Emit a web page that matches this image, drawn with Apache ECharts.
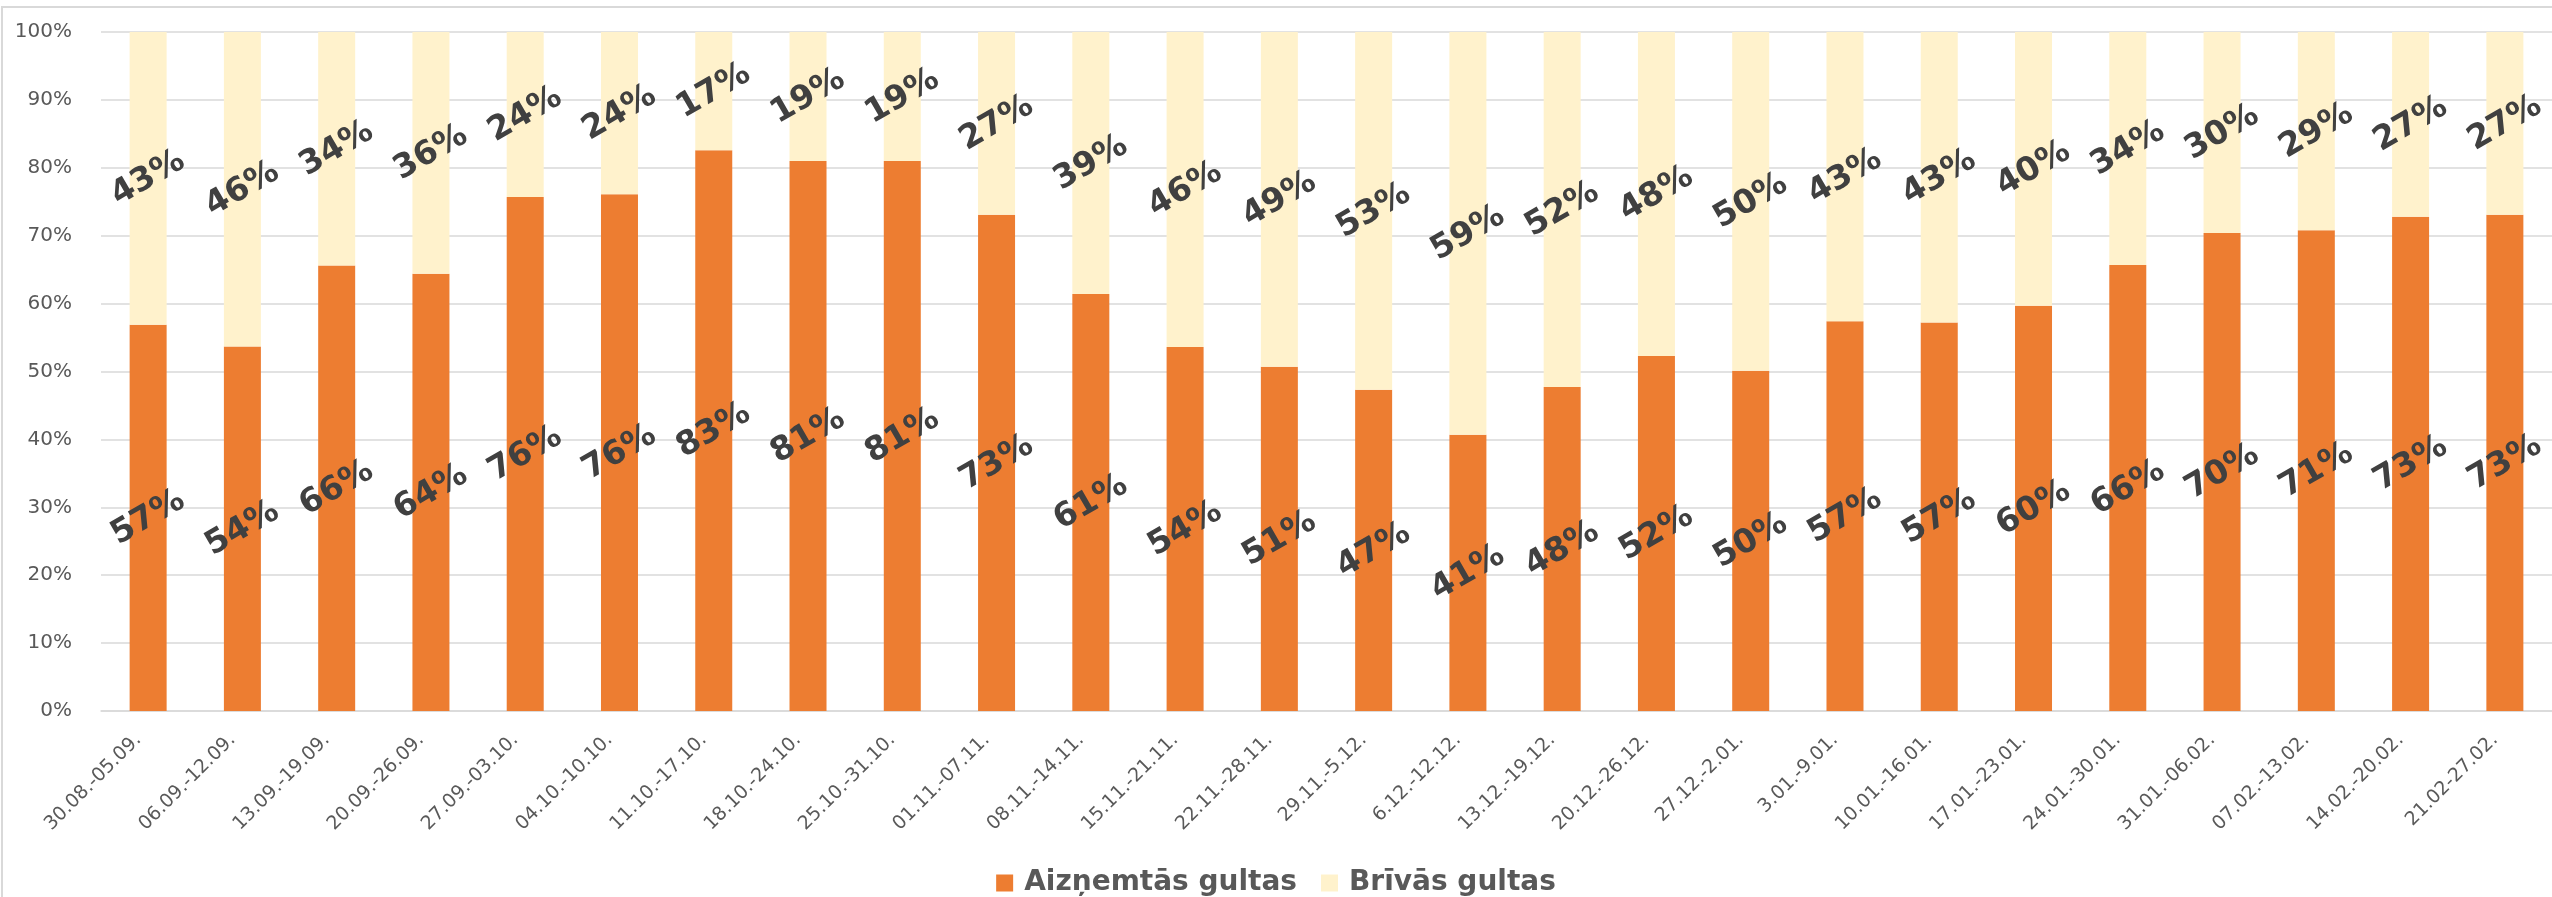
<!DOCTYPE html>
<html>
<head>
<meta charset="utf-8">
<script src="https://cdn.jsdelivr.net/npm/echarts@6/dist/echarts.min.js"></script>
<style>
  html, body { margin: 0; padding: 0; background: #fff; overflow: hidden; }
  #frame { position: absolute; left: 1px; top: 6px; width: 2600px; height: 950px;
           border-top: 2px solid #d9d9d9; border-left: 2px solid #d9d9d9; }
  #chart { position: absolute; left: 0; top: 0; width: 2552px; height: 897px; }
</style>
</head>
<body>
<div id="frame"></div>
<div id="chart"></div>
<script>
// weeks on the x axis
let weeks = ['30.08.-05.09.', '06.09.-12.09.', '13.09.-19.09.', '20.09.-26.09.', '27.09.-03.10.',
    '04.10.-10.10.', '11.10.-17.10.', '18.10.-24.10.', '25.10.-31.10.', '01.11.-07.11.',
    '08.11.-14.11.', '15.11.-21.11.', '22.11.-28.11.', '29.11.-5.12.', '6.12.-12.12.',
    '13.12.-19.12.', '20.12.-26.12.', '27.12.-2.01.', '3.01.-9.01.', '10.01.-16.01.',
    '17.01.-23.01.', '24.01.-30.01.', '31.01.-06.02.', '07.02.-13.02.', '14.02.-20.02.',
    '21.02-27.02.'];

// occupied beds, %
let occupied = [56.9, 53.7, 65.6, 64.4, 75.7, 76.1, 82.6, 81.0, 81.0, 73.1,
    61.4, 53.6, 50.7, 47.3, 40.7, 47.7, 52.3, 50.1, 57.4, 57.2,
    59.7, 65.7, 70.4, 70.8, 72.8, 73.1];

// free beds, %
let free = [43.1, 46.3, 34.4, 35.6, 24.3, 23.9, 17.4, 19.0, 19.0, 26.9,
    38.6, 46.4, 49.3, 52.7, 59.3, 52.3, 47.7, 49.9, 42.6, 42.8,
    40.3, 34.3, 29.6, 29.2, 27.2, 26.9];

let seriesNames = ['Aizņemtās gultas', 'Brīvās gultas'];

let textColor = '#595959';
let dataLabel = {
    show: true,
    position: 'inside',
    rotate: 30,
    fontFamily: 'DejaVu Sans',
    fontWeight: 'bold',
    fontSize: 33,
    color: '#404040',
    formatter: function (p) {
        return Math.round(p.value) + '%';
    }
};

let myChart = echarts.init(document.getElementById('chart'));
myChart.setOption({
    animation: false,
    grid: {
        left: 101,
        right: -8,
        top: 32,
        bottom: 186
    },
    legend: {
        data: seriesNames,
        left: 'center',
        top: 864,
        itemWidth: 17,
        itemHeight: 17,
        itemGap: 24,
        icon: 'rect',
        textStyle: {
            fontFamily: 'DejaVu Sans',
            fontWeight: 'bold',
            fontSize: 28,
            color: textColor,
            padding: [0, 0, 0, 6]
        }
    },
    xAxis: {
        type: 'category',
        data: weeks,
        axisTick: {show: false},
        axisLine: {lineStyle: {color: '#d9d9d9', width: 1.5}},
        axisLabel: {
            interval: 0,
            rotate: 45,
            margin: 16,
            padding: [0, 14, 0, 0],
            fontFamily: 'DejaVu Sans',
            fontSize: 19,
            color: textColor
        }
    },
    yAxis: {
        type: 'value',
        min: 0,
        max: 100,
        interval: 10,
        axisLine: {show: false},
        axisTick: {show: false},
        splitLine: {lineStyle: {color: '#d9d9d9', width: 1.5}},
        axisLabel: {
            formatter: '{value}%',
            margin: 29,
            fontFamily: 'DejaVu Sans',
            fontSize: 20,
            color: textColor
        }
    },
    series: [
        {
            name: seriesNames[0],
            type: 'bar',
            stack: 'beds',
            barWidth: 37,
            data: occupied,
            itemStyle: {color: '#ED7D31'},
            label: dataLabel
        },
        {
            name: seriesNames[1],
            type: 'bar',
            stack: 'beds',
            barWidth: 37,
            data: free,
            itemStyle: {color: '#FFF2CC'},
            label: dataLabel
        }
    ]
});
</script>
</body>
</html>
